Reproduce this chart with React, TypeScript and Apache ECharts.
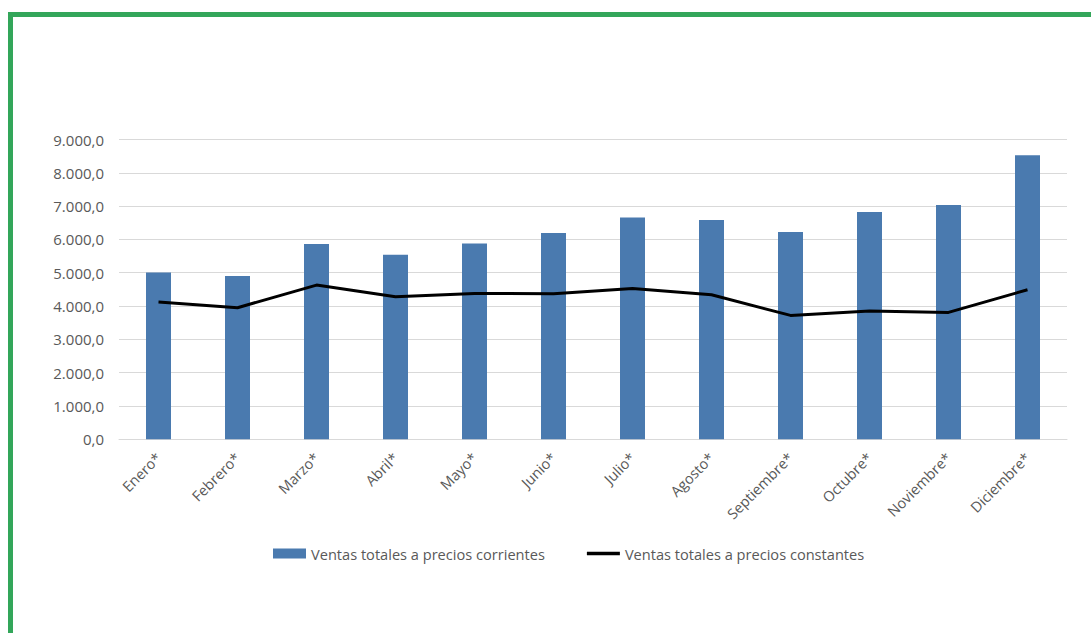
import React, { useEffect, useRef } from "react";
import * as echarts from "echarts";

const months = [
  "Enero*", "Febrero*", "Marzo*", "Abril*", "Mayo*", "Junio*",
  "Julio*", "Agosto*", "Septiembre*", "Octubre*", "Noviembre*", "Diciembre*",
];
const corrientes = [5010, 4900, 5860, 5540, 5880, 6190, 6660, 6580, 6220, 6820, 7030, 8530];
const constantes = [4120, 3950, 4630, 4280, 4380, 4370, 4530, 4340, 3720, 3850, 3810, 4490];
const seriesNames = ["Ventas totales a precios corrientes", "Ventas totales a precios constantes"];

const fmt = (v: number) => {
  const s = Math.round(v).toString().replace(/\B(?=(\d{3})+(?!\d))/g, ".");
  return s + ",0";
};

export default function App() {
  const ref = useRef<HTMLDivElement>(null);
  useEffect(() => {
    if (!ref.current) return;
    const chart = echarts.init(ref.current, undefined, { renderer: "svg" });
    chart.setOption({
      animation: false,
      backgroundColor: "#ffffff",
      grid: { left: 119, right: 24, top: 139.5, bottom: 193.7, containLabel: false },
      xAxis: {
        type: "category",
        data: months,
        axisLine: { lineStyle: { color: "#d9d9d9", width: 1 } },
        axisTick: { show: false },
        axisLabel: {
          rotate: 45,
          color: "#595959",
          fontFamily: "Open Sans",
          fontSize: 14.5,
          margin: 16,
          interval: 0,
        },
      },
      yAxis: {
        type: "value",
        min: 0,
        max: 9000,
        interval: 1000,
        axisLine: { show: false },
        axisTick: { show: false },
        splitLine: { lineStyle: { color: "#d9d9d9", width: 1 } },
        axisLabel: {
          color: "#595959",
          fontFamily: "Open Sans",
          fontSize: 15,
          margin: 15,
          formatter: fmt,
        },
      },
      legend: {
        left: 273,
        top: 546,
        padding: 0,
        itemGap: 42,
        itemWidth: 33,
        itemHeight: 10,
        textStyle: {
          color: "#595959",
          fontFamily: "Open Sans",
          fontSize: 14.6,
        },
        data: [
          { name: seriesNames[0], icon: "rect", itemStyle: { color: "#4a7aaf" } },
          {
            name: seriesNames[1],
            icon: "path://M0,3.3 L33,3.3 L33,6.7 L0,6.7 Z",
            itemStyle: { color: "#000000", borderWidth: 0 },
          },
        ],
      },
      series: [
        {
          name: seriesNames[0],
          type: "bar",
          data: corrientes,
          barWidth: 25,
          itemStyle: { color: "#4a7aaf" },
        },
        {
          name: seriesNames[1],
          type: "line",
          data: constantes,
          symbol: "none",
          lineStyle: { color: "#000000", width: 3 },
          itemStyle: { color: "#000000" },
          z: 5,
        },
      ],
      graphic: [
        { type: "rect", left: 8, top: 12, shape: { width: 5, height: 630 }, style: { fill: "#33a65a" } },
        { type: "rect", left: 8, top: 12, shape: { width: 1083, height: 5 }, style: { fill: "#33a65a" } },
      ],
    });
    return () => chart.dispose();
  }, []);
  return (
    <div
      ref={ref}
      style={{ position: "fixed", left: 0, top: 0, width: 1091, height: 633 }}
    />
  );
}
